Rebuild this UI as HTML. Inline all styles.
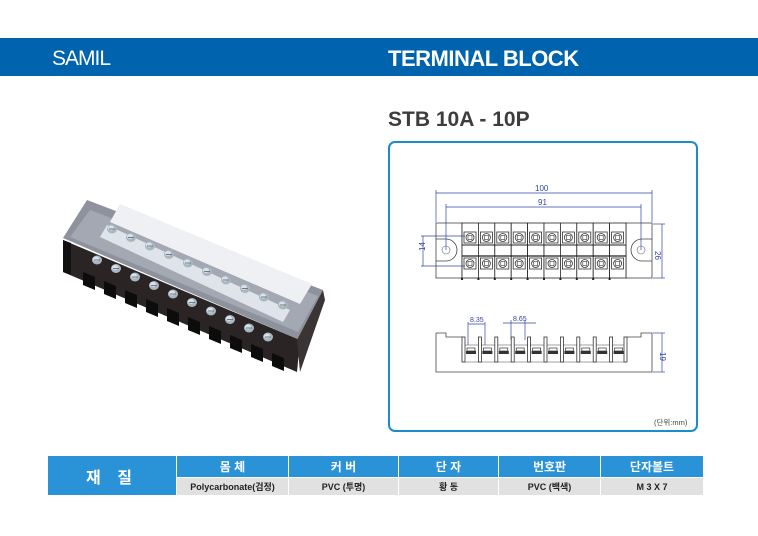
<!DOCTYPE html>
<html><head><meta charset="utf-8"><style>
body{margin:0;width:758px;height:536px;background:#fff;position:relative;overflow:hidden;font-family:"Liberation Sans","Noto Sans CJK KR",sans-serif}
.bar{position:absolute;left:0;top:38px;width:758px;height:38px;background:#0063ae}
.samil{position:absolute;left:52px;top:47px;color:#fff;font-size:21px;letter-spacing:-1px}
.tb{position:absolute;left:388px;top:46px;color:#fff;font-size:22px;font-weight:bold;letter-spacing:-0.5px}
.stb{position:absolute;left:388px;top:108px;color:#3d3d3d;font-size:21px;font-weight:bold;letter-spacing:0px}
.box{position:absolute;left:388px;top:141px;width:306px;height:287px;border:2px solid #1b8bcb;border-radius:7px}
table{position:absolute;left:48px;top:456px;border-collapse:collapse;font-family:"Liberation Sans","Noto Sans CJK KR",sans-serif}
td{padding:0;text-align:center;border-left:1px solid #fff}
.h{background:#2a92d6;color:#fff;font-size:12px;font-weight:bold;height:21px}
.d{background:#e1e1e1;color:#222;font-size:9px;font-weight:bold;height:17px;border-top:1px solid #fff}
.m{background:#2a92d6;color:#fff;font-size:16px;font-weight:bold;letter-spacing:6px}
</style></head><body>
<div class="bar"></div>
<div class="samil">SAMIL</div>
<div class="tb">TERMINAL BLOCK</div>
<div class="stb">STB 10A - 10P</div>
<div class="box"></div>
<svg width="758" height="536" style="position:absolute;left:0;top:0">
<defs>
<g id="cell">
<rect x="0" y="0" width="16.4" height="55" fill="#fff" stroke="#222" stroke-width="0.8"/>
<rect x="2" y="9" width="12" height="11" fill="#fff" stroke="#333" stroke-width="0.8"/>
<circle cx="8" cy="14.5" r="4" fill="none" stroke="#333" stroke-width="0.8"/>
<rect x="6" y="12.5" width="4" height="4" fill="none" stroke="#333" stroke-width="0.6"/>
<rect x="2" y="35" width="12" height="11" fill="#fff" stroke="#333" stroke-width="0.8"/>
<circle cx="8" cy="40.5" r="4" fill="none" stroke="#333" stroke-width="0.8"/>
<rect x="6" y="38.5" width="4" height="4" fill="none" stroke="#333" stroke-width="0.6"/>
<line x1="0" y1="22" x2="16.4" y2="22" stroke="#222" stroke-width="1"/>
<line x1="0" y1="33" x2="16.4" y2="33" stroke="#222" stroke-width="1.2"/>
<rect x="-1" y="55" width="2" height="2" fill="#222"/>
</g>
<g id="side">
<rect x="0" y="4" width="3" height="25" fill="#fff" stroke="#333" stroke-width="0.8"/>
<rect x="5" y="15" width="8" height="3" fill="#fff" stroke="#333" stroke-width="0.7"/>
<rect x="4" y="18" width="10" height="3" fill="#333"/>
</g>
<g id="scr"><ellipse cx="0" cy="0" rx="5" ry="4.5" fill="#a9b6c0"/><ellipse cx="-1" cy="-1" rx="3" ry="2.5" fill="#d8e2ea"/><line x1="-3" y1="0" x2="3" y2="0" stroke="#6d7a86"/></g>
</defs>
<g>
<rect x="436" y="223" width="26" height="55" fill="#fff" stroke="#444" stroke-width="0.8"/>
<rect x="626" y="223" width="26" height="55" fill="#fff" stroke="#444" stroke-width="0.8"/>
<path d="M436 239 H446 A11 11 0 0 1 446 261 H436" fill="none" stroke="#444" stroke-width="0.8"/>
<path d="M652 239 H642 A11 11 0 0 0 642 261 H652" fill="none" stroke="#444" stroke-width="0.8"/>
<circle cx="446" cy="250" r="4" fill="none" stroke="#666" stroke-width="0.6"/>
<circle cx="641" cy="250" r="4" fill="none" stroke="#666" stroke-width="0.6"/>
<use href="#cell" x="462" y="223"/><use href="#cell" x="478.4" y="223"/><use href="#cell" x="494.8" y="223"/><use href="#cell" x="511.2" y="223"/><use href="#cell" x="527.6" y="223"/><use href="#cell" x="544" y="223"/><use href="#cell" x="560.4" y="223"/><use href="#cell" x="576.8" y="223"/><use href="#cell" x="593.2" y="223"/><use href="#cell" x="609.6" y="223"/>
</g>
<g stroke="#3344aa" stroke-width="0.7" fill="none">
<line x1="436" y1="190" x2="436" y2="222"/><line x1="652" y1="190" x2="652" y2="222"/>
<line x1="436" y1="193" x2="652" y2="193"/>
<line x1="446" y1="204" x2="446" y2="250"/><line x1="641" y1="204" x2="641" y2="250"/>
<line x1="446" y1="207" x2="641" y2="207"/>
<line x1="421" y1="236" x2="465" y2="236"/><line x1="421" y1="266" x2="465" y2="266"/>
<line x1="423" y1="236" x2="423" y2="266"/>
<line x1="653" y1="224" x2="665" y2="224"/><line x1="653" y1="278" x2="665" y2="278"/>
<line x1="662" y1="224" x2="662" y2="278"/>
<line x1="653" y1="333" x2="665" y2="333"/><line x1="653" y1="372" x2="665" y2="372"/>
<line x1="662" y1="333" x2="662" y2="372"/>
<line x1="468" y1="322" x2="468" y2="350"/><line x1="485" y1="322" x2="485" y2="350"/>
<line x1="468" y1="324" x2="485" y2="324"/>
<line x1="503" y1="323" x2="536" y2="323"/><line x1="511" y1="320" x2="511" y2="340"/><line x1="525" y1="320" x2="525" y2="340"/>
</g>
<g font-size="8" fill="#3344aa" font-family="Liberation Sans,sans-serif">
<text x="535" y="191">100</text><text x="538" y="205">91</text>
<text x="420" y="256" transform="rotate(-90 420 251)">14</text>
<text x="660" y="256" transform="rotate(90 660 251)">26</text>
<text x="660" y="352" transform="rotate(90 660 352)">19</text>
<text x="470" y="322" font-size="7">8.35</text><text x="513" y="321" font-size="7">8.65</text>
</g>
<path d="M436 333 H446 V337 H462 M626 337 H641 V333 H652 V372 H436 V333" fill="none" stroke="#444" stroke-width="0.8"/>
<rect x="462" y="345" width="164" height="17" fill="#fff" stroke="#666" stroke-width="0.6"/>
<use href="#side" x="462" y="333"/><use href="#side" x="478.4" y="333"/><use href="#side" x="494.8" y="333"/><use href="#side" x="511.2" y="333"/><use href="#side" x="527.6" y="333"/><use href="#side" x="544" y="333"/><use href="#side" x="560.4" y="333"/><use href="#side" x="576.8" y="333"/><use href="#side" x="593.2" y="333"/><use href="#side" x="609.6" y="333"/>
<rect x="624" y="337" width="3" height="25" fill="#fff" stroke="#333" stroke-width="0.8"/>
<text x="654" y="425" font-size="7.5" fill="#444" font-family="Liberation Sans,'Noto Sans CJK KR',sans-serif">(단위:mm)</text>
<polygon points="63,240 63,272 297,372 300,340" fill="#2a2424"/>
<polygon points="63,238 87,200 323,290 300,340" fill="#8e929c"/>
<polygon points="70,237 90,210 318,296 298,332" fill="#a4a8b2"/>
<polygon points="110,222 120,204 312,284 300,304" fill="#eef0f4"/>
<polygon points="100,237 107,225 290,310 283,322" fill="#dfe3ea"/>
<polygon points="63,240 63,272 71,275 71,243" fill="#111"/>
<polygon points="297,340 323,290 325,300 300,372" fill="#3a3434"/>
<g fill="#0c0c0c">
<polygon points="83,272 95,277 95,290 83,285"/><polygon points="104,281 116,286 116,299 104,294"/><polygon points="125,290 137,295 137,308 125,303"/><polygon points="146,299 158,304 158,317 146,312"/><polygon points="167,308 179,313 179,326 167,321"/><polygon points="188,317 200,322 200,335 188,330"/><polygon points="209,326 221,331 221,344 209,339"/><polygon points="230,335 242,340 242,353 230,348"/><polygon points="251,344 263,349 263,362 251,357"/><polygon points="272,353 284,358 284,371 272,366"/>
</g>
<use href="#scr" x="97" y="260"/><use href="#scr" x="116" y="268.5"/><use href="#scr" x="135" y="277"/><use href="#scr" x="154" y="285.5"/><use href="#scr" x="173" y="294"/><use href="#scr" x="192" y="302.5"/><use href="#scr" x="211" y="311"/><use href="#scr" x="230" y="319.5"/><use href="#scr" x="249" y="328"/><use href="#scr" x="268" y="337"/>
<use href="#scr" x="112" y="229"/><use href="#scr" x="131" y="237.5"/><use href="#scr" x="150" y="246"/><use href="#scr" x="169" y="254.5"/><use href="#scr" x="188" y="263"/><use href="#scr" x="207" y="271.5"/><use href="#scr" x="226" y="280"/><use href="#scr" x="245" y="288.5"/><use href="#scr" x="264" y="297"/><use href="#scr" x="283" y="305"/>
</svg>
<table>
<tr><td class="m" rowspan="2" style="width:128px;border-left:none">재 질</td><td class="h" style="width:111px">몸 체</td><td class="h" style="width:109px">커 버</td><td class="h" style="width:99px">단 자</td><td class="h" style="width:101px">번호판</td><td class="h" style="width:102px">단자볼트</td></tr>
<tr><td class="d">Polycarbonate(검정)</td><td class="d">PVC (투명)</td><td class="d">황 동</td><td class="d">PVC (백색)</td><td class="d">M 3 X 7</td></tr>
</table>
</body></html>
